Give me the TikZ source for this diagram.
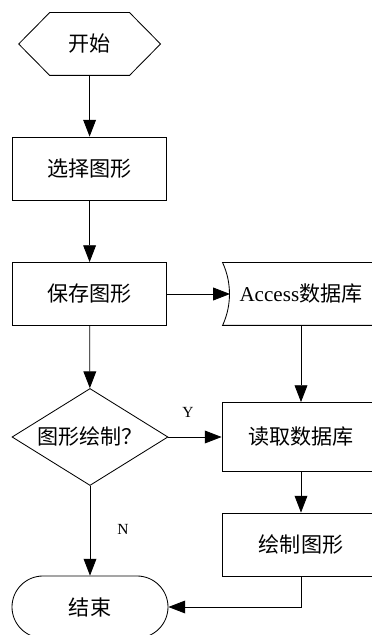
\documentclass[tikz,border=0pt]{standalone}
\usepackage{fontspec}
\setmainfont{Liberation Serif}
\newfontfamily\cjk{Noto Sans CJK SC}
\usetikzlibrary{arrows.meta,shapes.geometric}

\begin{document}
\begin{tikzpicture}[font=\fontsize{15}{18}\selectfont]
\useasboundingbox (0,0) rectangle (9.3,15.875);
\clip (0,0) rectangle (9.3,15.875);
\begin{scope}[every node/.style={draw,line width=0.6pt,minimum width=3.85cm,minimum height=1.575cm,inner sep=0pt}]
    \node[draw=none,minimum width=3.525cm,minimum height=1.55cm] (start) at (2.24,14.775) {\cjk 开始};
    \node (choose) at (2.24,11.6625) {\cjk 选择图形};
    \node (save) at (2.24,8.525) {\cjk 保存图形};
    \node[draw=none,minimum width=3.9cm,minimum height=1.55cm] (acc) at (7.525,8.525) {Access{\cjk 数据库}};
    \node[diamond,aspect=1.6,minimum width=3.9cm,minimum height=2.425cm] (dec) at (2.25,4.95) {\cjk 图形绘制？};
    \node[minimum width=3.95cm,minimum height=1.725cm] (read) at (7.525,4.95) {\cjk 读取数据库};
    \node[minimum width=3.95cm] (drawg) at (7.525,2.2625) {\cjk 绘制图形};
    \node[rounded corners=0.775cm,minimum width=3.9cm,minimum height=1.55cm] (stop) at (2.25,0.7) {\cjk 结束};
\end{scope}
\coordinate (accin) at (5.75,8.525);
% outlines of the two odd shapes
\draw[line width=0.6pt] (start.west) -- ([xshift=0.775cm]start.north west) -- ([xshift=-0.775cm]start.north east)
    -- (start.east) -- ([xshift=-0.775cm]start.south east) -- ([xshift=0.775cm]start.south west) -- cycle;
\draw[line width=0.6pt] (acc.north west) .. controls +(0.23,-0.5) and +(0.23,0.5) .. (acc.south west)
    -- (acc.south east) .. controls +(0.23,0.5) and +(0.23,-0.5) .. (acc.north east) -- cycle;
\begin{scope}[every node/.style={font=\fontsize{11}{13}\selectfont}]
    \node (yes) at (4.7,5.575) {Y};
    \node (no) at (3.075,2.65) {N};
\end{scope}
\begin{scope}[every edge/.style={draw=black,line width=0.6pt,-{Triangle[length=0.42cm,width=0.32cm]}}]
    \path (start) edge (choose);
    \path (choose) edge (save);
    \path (save) edge (accin);
    \path (save) edge (dec);
    \path (acc) edge (read);
    \path (dec) edge (read);
    \path (read) edge (drawg);
    \path (dec) edge (stop);
    \path (drawg.south) edge[to path={|- (\tikztotarget)}] (stop.east);
\end{scope}
\end{tikzpicture}
\end{document}
